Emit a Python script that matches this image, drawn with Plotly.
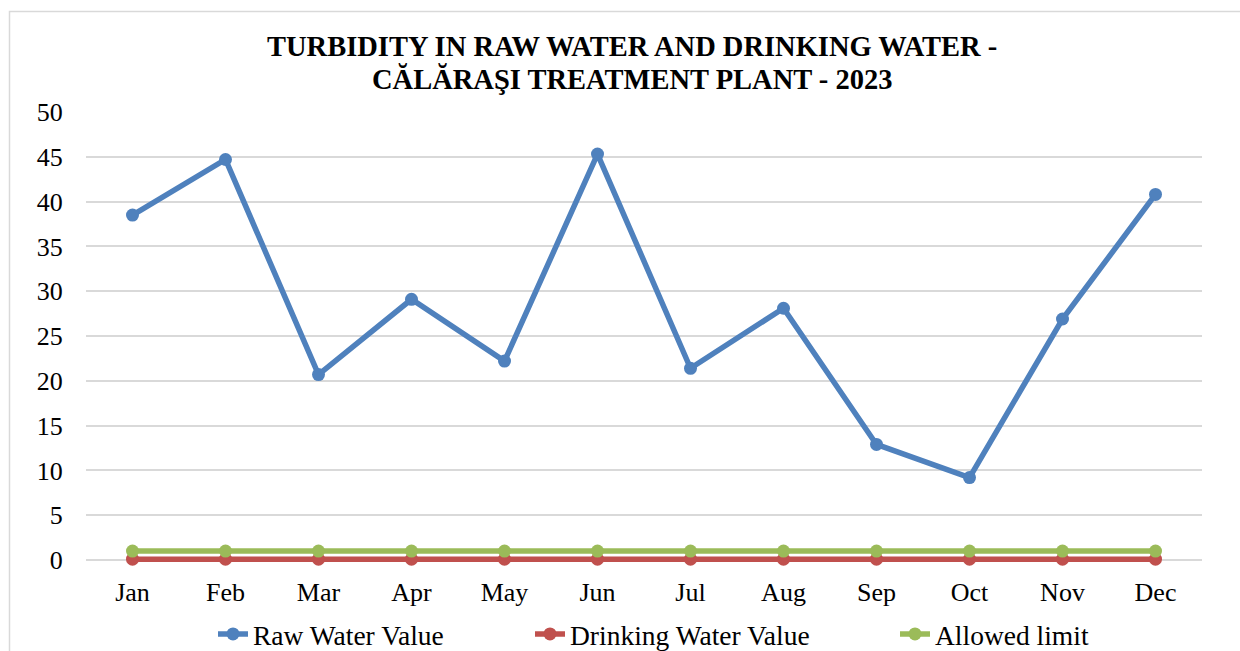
import plotly.graph_objects as go

months = ["Jan", "Feb", "Mar", "Apr", "May", "Jun", "Jul", "Aug", "Sep", "Oct", "Nov", "Dec"]
raw_water = [38.5, 44.7, 20.7, 29.1, 22.2, 45.3, 21.4, 28.1, 12.9, 9.2, 26.9, 40.8]
drinking_water = [0.1, 0.1, 0.1, 0.1, 0.1, 0.1, 0.1, 0.1, 0.1, 0.1, 0.1, 0.1]
allowed_limit = [1, 1, 1, 1, 1, 1, 1, 1, 1, 1, 1, 1]
y_ticks = [0, 5, 10, 15, 20, 25, 30, 35, 40, 45, 50]

FONT = "Liberation Serif"

W, H = 1240, 651
L, R, T = 86, 1202, 112
Y0PX = 560            # pixel row of value 0
YMIN, YMAX = -1, 50
scale = (Y0PX - T) / YMAX
B = Y0PX + (0 - YMIN) * scale
pw, ph = R - L, B - T

def px(x):
    return (x - L) / pw

def py(y):
    return (B - y) / ph

fig = go.Figure()
series = [
    ("Raw Water Value", raw_water, "#4F81BD", "legend", 253),
    ("Drinking Water Value", drinking_water, "#C0504D", "legend2", 570),
    ("Allowed limit", allowed_limit, "#9BBB59", "legend3", 935),
]
legends = {}
for name, vals, col, lg, txt_x in series:
    fig.add_trace(go.Scatter(
        x=months, y=vals, name=name, mode="lines+markers",
        line=dict(color=col, width=5.5),
        marker=dict(color=col, size=13),
        legend=lg,
    ))
    legends[lg] = dict(orientation="h", xanchor="left", yanchor="middle",
                       x=px(txt_x - 40), y=py(634),
                       font=dict(size=27.5, family=FONT, color="black"),
                       bgcolor="rgba(0,0,0,0)")

fig.update_layout(
    width=W, height=H,
    margin=dict(l=L, r=W - R, t=T, b=H - B, autoexpand=False),
    paper_bgcolor="white", plot_bgcolor="white",
    font=dict(family=FONT, size=26, color="black"),
    showlegend=True,
    annotations=[
        dict(text="<b>TURBIDITY IN RAW WATER AND DRINKING WATER -</b>",
             xref="paper", yref="paper", x=px(632), y=py(47),
             xanchor="center", yanchor="middle", showarrow=False,
             font=dict(family=FONT, size=28.5, color="black")),
        dict(text="<b>CĂLĂRAŞI TREATMENT PLANT - 2023</b>",
             xref="paper", yref="paper", x=px(632), y=py(79),
             xanchor="center", yanchor="middle", showarrow=False,
             font=dict(family=FONT, size=28.5, color="black")),
    ],
    shapes=[
        dict(type="rect", xref="paper", yref="paper",
             x0=px(9.5), x1=px(1260), y0=py(11.5), y1=py(700),
             line=dict(color="#d9d9d9", width=1.5), layer="below"),
    ],
    **legends,
)
fig.update_xaxes(
    type="category", range=[-0.5, 11.5], showgrid=False, showline=False, zeroline=False,
    ticks="outside", ticklen=0, tickcolor="rgba(0,0,0,0)",
    tickfont=dict(family=FONT, size=26, color="black"),
)
fig.update_yaxes(
    range=[YMIN, YMAX], tickvals=y_ticks, showgrid=True, gridcolor="#d9d9d9",
    gridwidth=1.5, zeroline=False, showline=False,
    ticks="outside", ticklen=17, tickcolor="rgba(0,0,0,0)",
    tickfont=dict(family=FONT, size=26, color="black"),
)

fig.write_html("out.html")
